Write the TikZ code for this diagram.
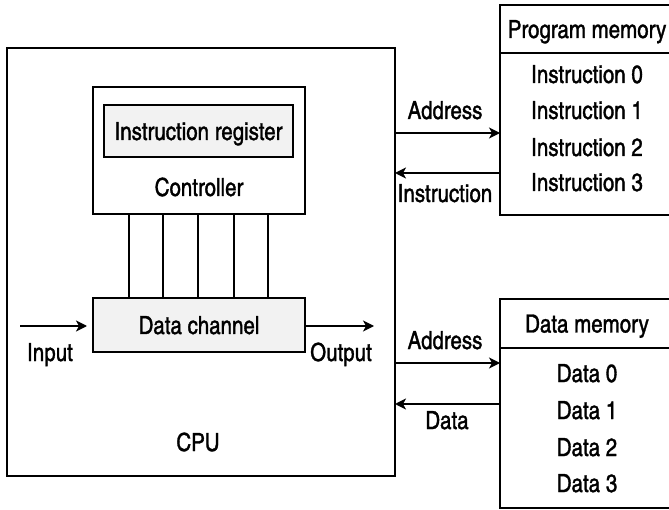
\documentclass[tikz,border=0pt]{standalone}
\usepackage{fontspec}
\setmainfont[FakeBold=1.3]{texgyreheroscn-regular.otf}
\usetikzlibrary{arrows.meta,calc}
\tikzset{>={Stealth[length=11pt,width=11pt,inset=3pt]}}
\tikzstyle{block}=[
	 draw, line width=1.5pt,
	 inner sep=0pt, outer sep=0pt,
	 anchor=north west,
	 text height=18pt, text depth=0pt
    ]
\tikzstyle{txt}=[inner sep=0pt, text height=18pt, text depth=0pt]
\tikzstyle{sig}=[->, line width=1.5pt]
\newcommand{\memItem}[3]{\node[txt] (#1) at (587,#2) {#3}}

\begin{document}
\begin{tikzpicture}[x=1pt,y=-1pt,font=\fontsize{25}{29}\selectfont]
\useasboundingbox (0,0) rectangle (669,510);

% CPU side
\node[block, minimum width=388pt, minimum height=428pt] (cpu) at (7,48) {};
\node[txt] (cpulbl) at (198,442) {CPU};
\node[block, minimum width=212pt, minimum height=127pt] (ctrl) at (93,87) {};
\node[block, fill=black!5, minimum width=189pt, minimum height=52pt] (ir) at (104,105) {Instruction register};
\node[txt] (ctrllbl) at (199,187) {Controller};
\node[block, fill=black!5, minimum width=212pt, minimum height=54pt] (dc) at (93,298) {Data channel};

\foreach \x in {129,163,198,234,268}
  \draw[line width=1.5pt] (ctrl.south -| \x,0) -- (dc.north -| \x,0);

\coordinate (in) at (20,326);
\coordinate (out) at (374,326);
\draw[sig, shorten >=6pt] (in) -- (dc.west |- in);
\draw[sig] (dc.east |- out) -- (out);
\node[txt] (inlbl) at (50,352) {Input};
\node[txt] (outlbl) at (341,352) {Output};

% program memory
\node[block, minimum width=174pt, minimum height=48pt] (phead) at (500,5) {Program memory};
\node[block, minimum width=174pt, minimum height=162pt] (pbody) at (500,53) {};
\memItem{I0}{74}{Instruction 0};
\memItem{I1}{110}{Instruction 1};
\memItem{I2}{147}{Instruction 2};
\memItem{I3}{182}{Instruction 3};

% data memory
\node[block, minimum width=174pt, minimum height=49pt] (dhead) at (500,299) {Data memory};
\node[block, minimum width=174pt, minimum height=160pt] (dbody) at (500,348) {};
\memItem{D0}{373}{Data 0};
\memItem{D1}{410}{Data 1};
\memItem{D2}{447}{Data 2};
\memItem{D3}{483}{Data 3};

% buses
\draw[sig] (cpu.east |- 0,133) -- (pbody.west |- 0,133);
\draw[sig] (pbody.west |- 0,173) -- (cpu.east |- 0,173);
\draw[sig] (cpu.east |- 0,363) -- (dbody.west |- 0,363);
\draw[sig] (dbody.west |- 0,404) -- (cpu.east |- 0,404);
\node[txt] (a1) at (445,110) {Address};
\node[txt] (i1) at (445,193) {Instruction};
\node[txt] (a2) at (445,340) {Address};
\node[txt] (d1) at (447,420) {Data};

\end{tikzpicture}
\end{document}
